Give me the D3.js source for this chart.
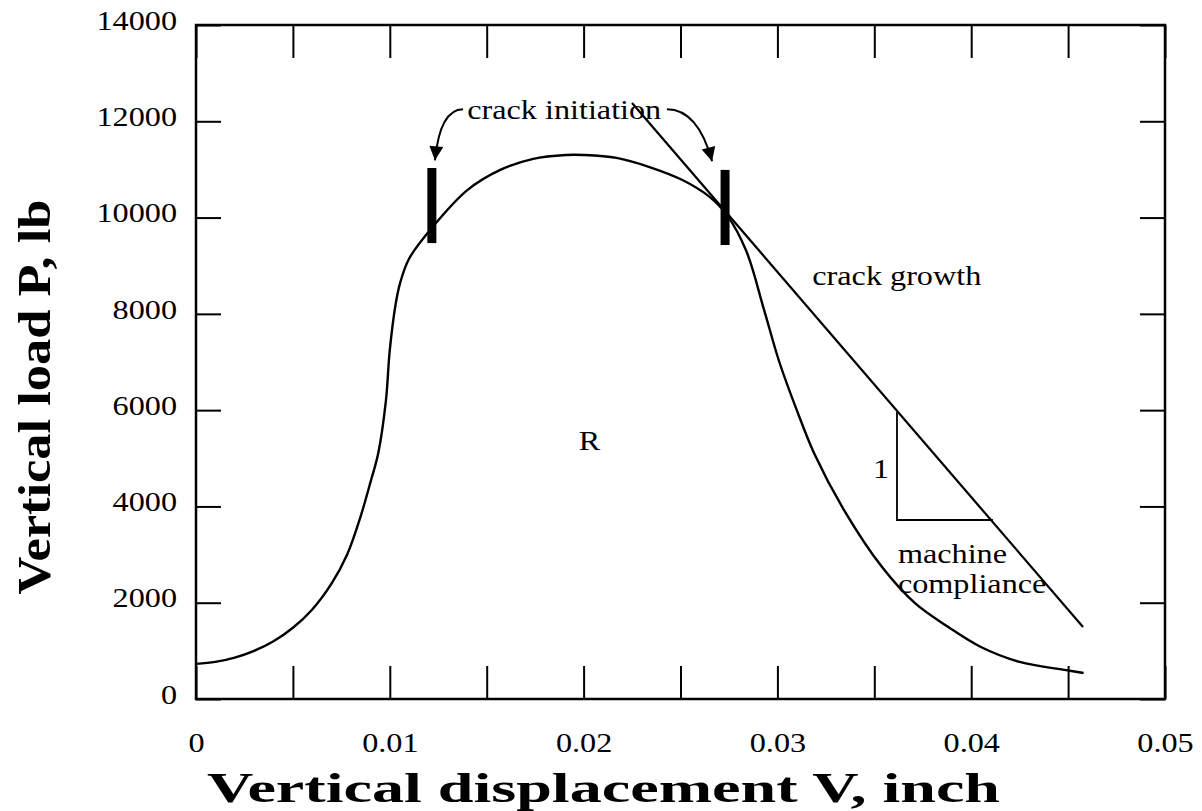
<!DOCTYPE html>
<html>
<head>
<meta charset="utf-8">
<script src="https://cdn.jsdelivr.net/npm/d3@7"></script>
<style>
  body { margin: 0; background: #fff; }
  text { font-family: "Liberation Serif", "Times New Roman", serif; fill: #000; }
</style>
</head>
<body>
<div id="chart"></div>
<script>
// load - displacement record
var dispV = [0, 0.001, 0.002, 0.003, 0.004, 0.005, 0.006, 0.007, 0.0078, 0.0085, 0.0090, 0.0094,
             0.0098, 0.0100, 0.0103, 0.01053, 0.0110, 0.0122, 0.0140, 0.0157, 0.0174, 0.0191, 0.0200, 0.0217,
             0.0234, 0.0251, 0.0265, 0.0274, 0.0284, 0.0293, 0.0301, 0.0310, 0.0319, 0.0334, 0.0354,
             0.0371, 0.0388, 0.0405, 0.0425, 0.0449, 0.0458];
var loadP = [730, 770, 860, 1000, 1200, 1480, 1860, 2400, 3000, 3800, 4500, 5100,
             6200, 7250, 8200, 8640, 9150, 9800, 10570, 10990, 11220, 11300, 11300, 11240,
             11050, 10780, 10430, 10050, 9300, 8100, 7000, 6000, 5100, 3950, 2740,
             1990, 1500, 1080, 770, 600, 540];

// straight crack growth line and the machine compliance triangle
var growthV = [0.0225, 0.04577];
var growthP = [12380, 1496];
var triV = [0.03617, 0.03617, 0.04112];
var triP = [5960, 3718, 3718];

// thick markers where the crack starts
var initV = [0.01217, 0.0273];
var initLo = [9470, 9430];
var initHi = [11030, 10990];

// tick values
var xMinor = [0, 0.005, 0.01, 0.015, 0.02, 0.025, 0.03, 0.035, 0.04, 0.045, 0.05];
var xLabels = ["0", "", "0.01", "", "0.02", "", "0.03", "", "0.04", "", "0.05"];
var yTicks = [0, 2000, 4000, 6000, 8000, 10000, 12000, 14000];

var width = 1202, height = 811;
var plot = {left: 196, right: 1165, top: 25, bottom: 699};

var svg = d3.select("#chart").append("svg")
    .attr("width", width)
    .attr("height", height);

var x = d3.scaleLinear().domain([0, 0.05]).range([plot.left, plot.right]);
var y = d3.scaleLinear().domain([0, 14000]).range([plot.bottom, plot.top]);

// the scanned type is a bit wider than Liberation Serif
function widen(sel, k) {
  sel.each(function() {
    var w = this.getComputedTextLength();
    if (w > 0) d3.select(this).attr("textLength", w * k).attr("lengthAdjust", "spacingAndGlyphs");
  });
}

// axes, ticks point inward on all four sides
var axisB = svg.append("g")
    .attr("transform", "translate(0," + plot.bottom + ")")
    .call(d3.axisBottom(x).tickValues(xMinor).tickSize(-33).tickPadding(33)
      .tickFormat(function(d, i) { return xLabels[i]; }));
var axisT = svg.append("g")
    .attr("transform", "translate(0," + plot.top + ")")
    .call(d3.axisTop(x).tickValues(xMinor).tickSize(-33).tickFormat(""));
var axisL = svg.append("g")
    .attr("transform", "translate(" + plot.left + ",0)")
    .call(d3.axisLeft(y).tickValues(yTicks).tickSize(-25).tickPadding(19).tickFormat(d3.format("d")));
var axisR = svg.append("g")
    .attr("transform", "translate(" + plot.right + ",0)")
    .call(d3.axisRight(y).tickValues(yTicks).tickSize(-25).tickFormat(""));

[axisB, axisT, axisL, axisR].forEach(function(a) {
  a.select(".domain").remove();
  a.selectAll(".tick line").attr("stroke", "#000").attr("stroke-width", 2);
  a.selectAll("text")
      .style("font-family", "\"Liberation Serif\", \"Times New Roman\", serif")
      .style("font-size", "28px")
      .attr("fill", "#000");
});
axisL.selectAll("text").attr("dy", "0.15em");
widen(axisB.selectAll("text"), 1.15);
widen(axisL.selectAll("text"), 1.15);

// frame
svg.append("rect")
    .attr("x", plot.left)
    .attr("y", plot.top)
    .attr("width", plot.right - plot.left)
    .attr("height", plot.bottom - plot.top)
    .attr("fill", "none")
    .attr("stroke", "#000")
    .attr("stroke-width", 2.5);

// the measured curve
var curve = dispV.map(function(v, i) { return [v, loadP[i]]; });
var line = d3.line()
    .x(function(d) { return x(d[0]); })
    .y(function(d) { return y(d[1]); })
    .curve(d3.curveCatmullRom.alpha(0.5));

svg.append("path")
    .datum(curve)
    .attr("d", line)
    .attr("fill", "none")
    .attr("stroke", "#000")
    .attr("stroke-width", 2.4);

// crack growth line
var straight = d3.line()
    .x(function(d) { return x(d[0]); })
    .y(function(d) { return y(d[1]); });

svg.append("path")
    .datum(growthV.map(function(v, i) { return [v, growthP[i]]; }))
    .attr("d", straight)
    .attr("fill", "none")
    .attr("stroke", "#000")
    .attr("stroke-width", 2.2);

// compliance triangle (two legs only)
svg.append("path")
    .datum(triV.map(function(v, i) { return [v, triP[i]]; }))
    .attr("d", straight)
    .attr("fill", "none")
    .attr("stroke", "#000")
    .attr("stroke-width", 1.8);

// crack initiation bars
svg.selectAll("line.init")
    .data(initV)
    .enter().append("line")
    .attr("class", "init")
    .attr("x1", function(d) { return x(d); })
    .attr("x2", function(d) { return x(d); })
    .attr("y1", function(d, i) { return y(initLo[i]); })
    .attr("y2", function(d, i) { return y(initHi[i]); })
    .attr("stroke", "#000")
    .attr("stroke-width", 9);

// arrows from the label to the bars
svg.append("defs").append("marker")
    .attr("id", "head")
    .attr("viewBox", "0 0 10 10")
    .attr("refX", 10)
    .attr("refY", 5)
    .attr("markerUnits", "userSpaceOnUse")
    .attr("markerWidth", 18)
    .attr("markerHeight", 14)
    .attr("orient", "auto")
    .append("path")
    .attr("d", "M0,0 L10,5 L0,10 Z")
    .attr("fill", "#000");

var arrows = [
  {from: [0.01378, 12250], ctrl: [0.01259, 12250], to: [0.01233, 11190]},
  {from: [0.0243, 12250], ctrl: [0.0259, 12250], to: [0.02663, 11170]}
];
svg.selectAll("path.arrow")
    .data(arrows)
    .enter().append("path")
    .attr("class", "arrow")
    .attr("d", function(d) {
      return "M" + x(d.from[0]) + "," + y(d.from[1]) +
             " Q" + x(d.ctrl[0]) + "," + y(d.ctrl[1]) +
             " " + x(d.to[0]) + "," + y(d.to[1]);
    })
    .attr("fill", "none")
    .attr("stroke", "#000")
    .attr("stroke-width", 2)
    .attr("marker-end", "url(#head)");

// annotations
var notes = [
  {t: "crack initiation", v: 0.0190, p: 12050, anchor: "middle"},
  {t: "crack growth", v: 0.0318, p: 8600, anchor: "start"},
  {t: "R", v: 0.0203, p: 5170, anchor: "middle"},
  {t: "1", v: 0.03535, p: 4590, anchor: "middle"},
  {t: "machine", v: 0.03622, p: 2825, anchor: "start"},
  {t: "compliance", v: 0.03622, p: 2200, anchor: "start"}
];
var noteText = svg.selectAll("text.note")
    .data(notes)
    .enter().append("text")
    .attr("class", "note")
    .attr("x", function(d) { return x(d.v); })
    .attr("y", function(d) { return y(d.p); })
    .attr("text-anchor", function(d) { return d.anchor; })
    .style("font-size", "28px")
    .text(function(d) { return d.t; });
widen(noteText, 1.15);

// axis titles
svg.append("text")
    .attr("x", 207)
    .attr("y", 802)
    .attr("textLength", 793)
    .attr("lengthAdjust", "spacingAndGlyphs")
    .style("font-size", "43px")
    .style("font-weight", "bold")
    .text("Vertical displacement V, inch");

svg.append("text")
    .attr("transform", "translate(50,397) rotate(-90)")
    .attr("text-anchor", "middle")
    .attr("textLength", 395)
    .attr("lengthAdjust", "spacingAndGlyphs")
    .style("font-size", "46px")
    .style("font-weight", "bold")
    .text("Vertical load P, lb");
</script>
</body>
</html>
